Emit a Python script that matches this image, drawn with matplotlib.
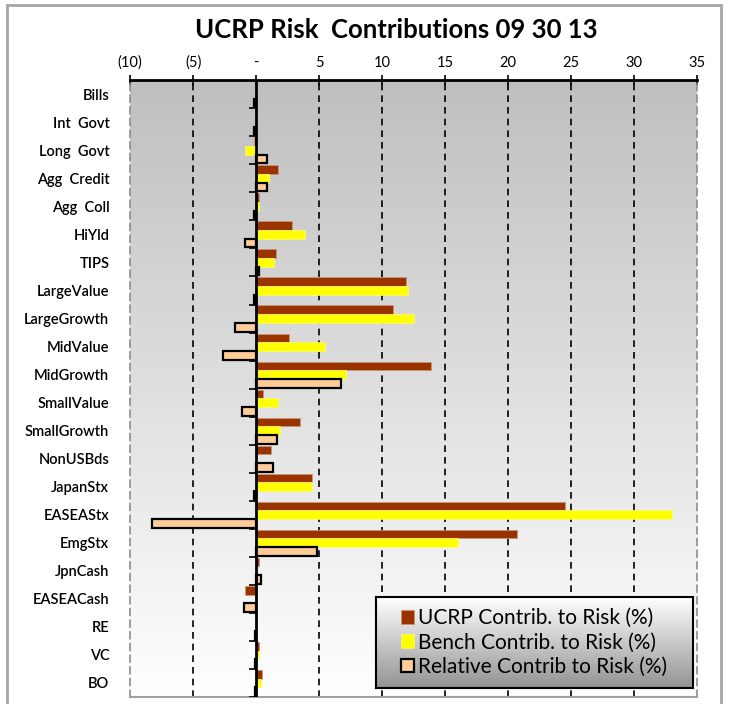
import numpy as np
import matplotlib
matplotlib.use("Agg")
import matplotlib.pyplot as plt
from matplotlib.patches import Rectangle

plt.rcParams['font.family'] = ['Lato', 'DejaVu Sans']

categories = ["Bills", "Int  Govt", "Long  Govt", "Agg  Credit", "Agg  Coll", "HiYld", "TIPS",
              "LargeValue", "LargeGrowth", "MidValue", "MidGrowth", "SmallValue", "SmallGrowth",
              "NonUSBds", "JapanStx", "EASEAStx", "EmgStx", "JpnCash", "EASEACash", "RE", "VC", "BO"]
ucrp = [0.0, 0.0, -0.2, 1.7, 0.25, 2.85, 1.55, 11.9, 10.85, 2.65, 13.85, 0.55, 3.5,
        1.2, 4.47, 24.55, 20.7, 0.25, -0.9, 0.0, 0.25, 0.45]
bench = [0.0, 0.0, -0.9, 1.05, 0.2, 3.85, 1.4, 12.05, 12.5, 5.5, 7.1, 1.75, 1.9,
         0.0, 4.47, 33.0, 16.05, 0.0, 0.0, 0.0, 0.2, 0.4]
relative = [-0.15, -0.15, 0.85, 0.85, -0.15, -0.85, 0.2, -0.15, -1.68, -2.6, 6.75, -1.15, 1.68,
            1.35, -0.15, -8.3, 4.8, 0.4, -1.0, -0.1, -0.1, -0.1]
series_labels = ["UCRP Contrib. to Risk (%)", "Bench Contrib. to Risk (%)", "Relative Contrib to Risk (%)"]
xticks = [-10, -5, 0, 5, 10, 15, 20, 25, 30, 35]
xtick_labels = ["(10)", "(5)", "-", "5", "10", "15", "20", "25", "30", "35"]

fig = plt.figure(figsize=(7.33, 7.04), dpi=100)
fig.patches.append(Rectangle((0.009, -0.01), 0.975, 1.003, transform=fig.transFigure,
                             fill=False, edgecolor="#a6a6a6", linewidth=2))

ax = fig.add_axes([0.1775, 0.010, 0.7735, 0.876])
n = len(categories)
y = np.arange(n)
h = 0.31

# gradient background
grad = np.linspace(0, 1, 256).reshape(-1, 1)
ax.imshow(grad, cmap=matplotlib.colors.LinearSegmentedColormap.from_list("bg", ["#bfbfbf", "#ffffff"]),
          aspect="auto", extent=[-10, 35, n - 0.5, -0.5], zorder=0)

b1 = ax.barh(y - h, ucrp, height=h, color="#993300", edgecolor="#c9967a", linewidth=0.6, zorder=3)
b2 = ax.barh(y, bench, height=h, color="#ffff00", edgecolor="#ffff80", linewidth=0.4, zorder=3)
b3 = ax.barh(y + h, relative, height=h, color="#ffcc99", edgecolor="black", linewidth=1.6, zorder=3)

for xv in xticks[1:-1]:
    if xv != 0:
        ax.axvline(xv, color="black", linestyle=(0, (4, 3)), linewidth=1.2, zorder=1)
ax.axvline(0, color="black", linewidth=2, zorder=4)
ax.hlines(np.arange(n + 1) - 0.5, -0.55, 0, color="black", linewidth=1.2, zorder=4)

ax.set_xlim(-10, 35)
ax.set_ylim(n - 0.5, -0.5)
ax.xaxis.tick_top()
ax.set_xticks(xticks)
ax.set_xticklabels(xtick_labels, fontsize=10.5)
ax.tick_params(axis="x", direction="inout", length=7, width=1.2, pad=4)
ax.set_yticks(y)
ax.set_yticklabels(categories, fontsize=10.5, fontweight="semibold")
ax.tick_params(axis="y", length=0, pad=15)

ax.spines["top"].set_linewidth(2)
ax.spines["top"].set_color("black")
for s in ["left", "right"]:
    ax.spines[s].set_color("#8c8c8c")
    ax.spines[s].set_linestyle((0, (4, 3)))
    ax.spines[s].set_linewidth(1.2)
ax.spines["bottom"].set_color("#a0a0a0")
ax.spines["bottom"].set_linewidth(1.5)

fig.text(0.54, 0.957, "UCRP Risk  Contributions 09 30 13", ha="center", va="center",
         fontsize=18.5, fontweight="bold")

# legend with gradient box
lax = fig.add_axes([0.513, 0.023, 0.432, 0.129])
lax.imshow(grad, cmap=matplotlib.colors.LinearSegmentedColormap.from_list("lg", ["#ffffff", "#939393"]),
           aspect="auto", extent=[0, 1, 0, 1])
lax.set_xticks([])
lax.set_yticks([])
for s in lax.spines.values():
    s.set_linewidth(1.5)
    s.set_color("black")
lax.legend([b1, b2, b3], series_labels, loc="center", frameon=False, fontsize=15,
           handlelength=0.6, handleheight=0.6, handletextpad=0.2, labelspacing=0.2,
           borderaxespad=0)

fig.savefig("out.png", dpi=100)
